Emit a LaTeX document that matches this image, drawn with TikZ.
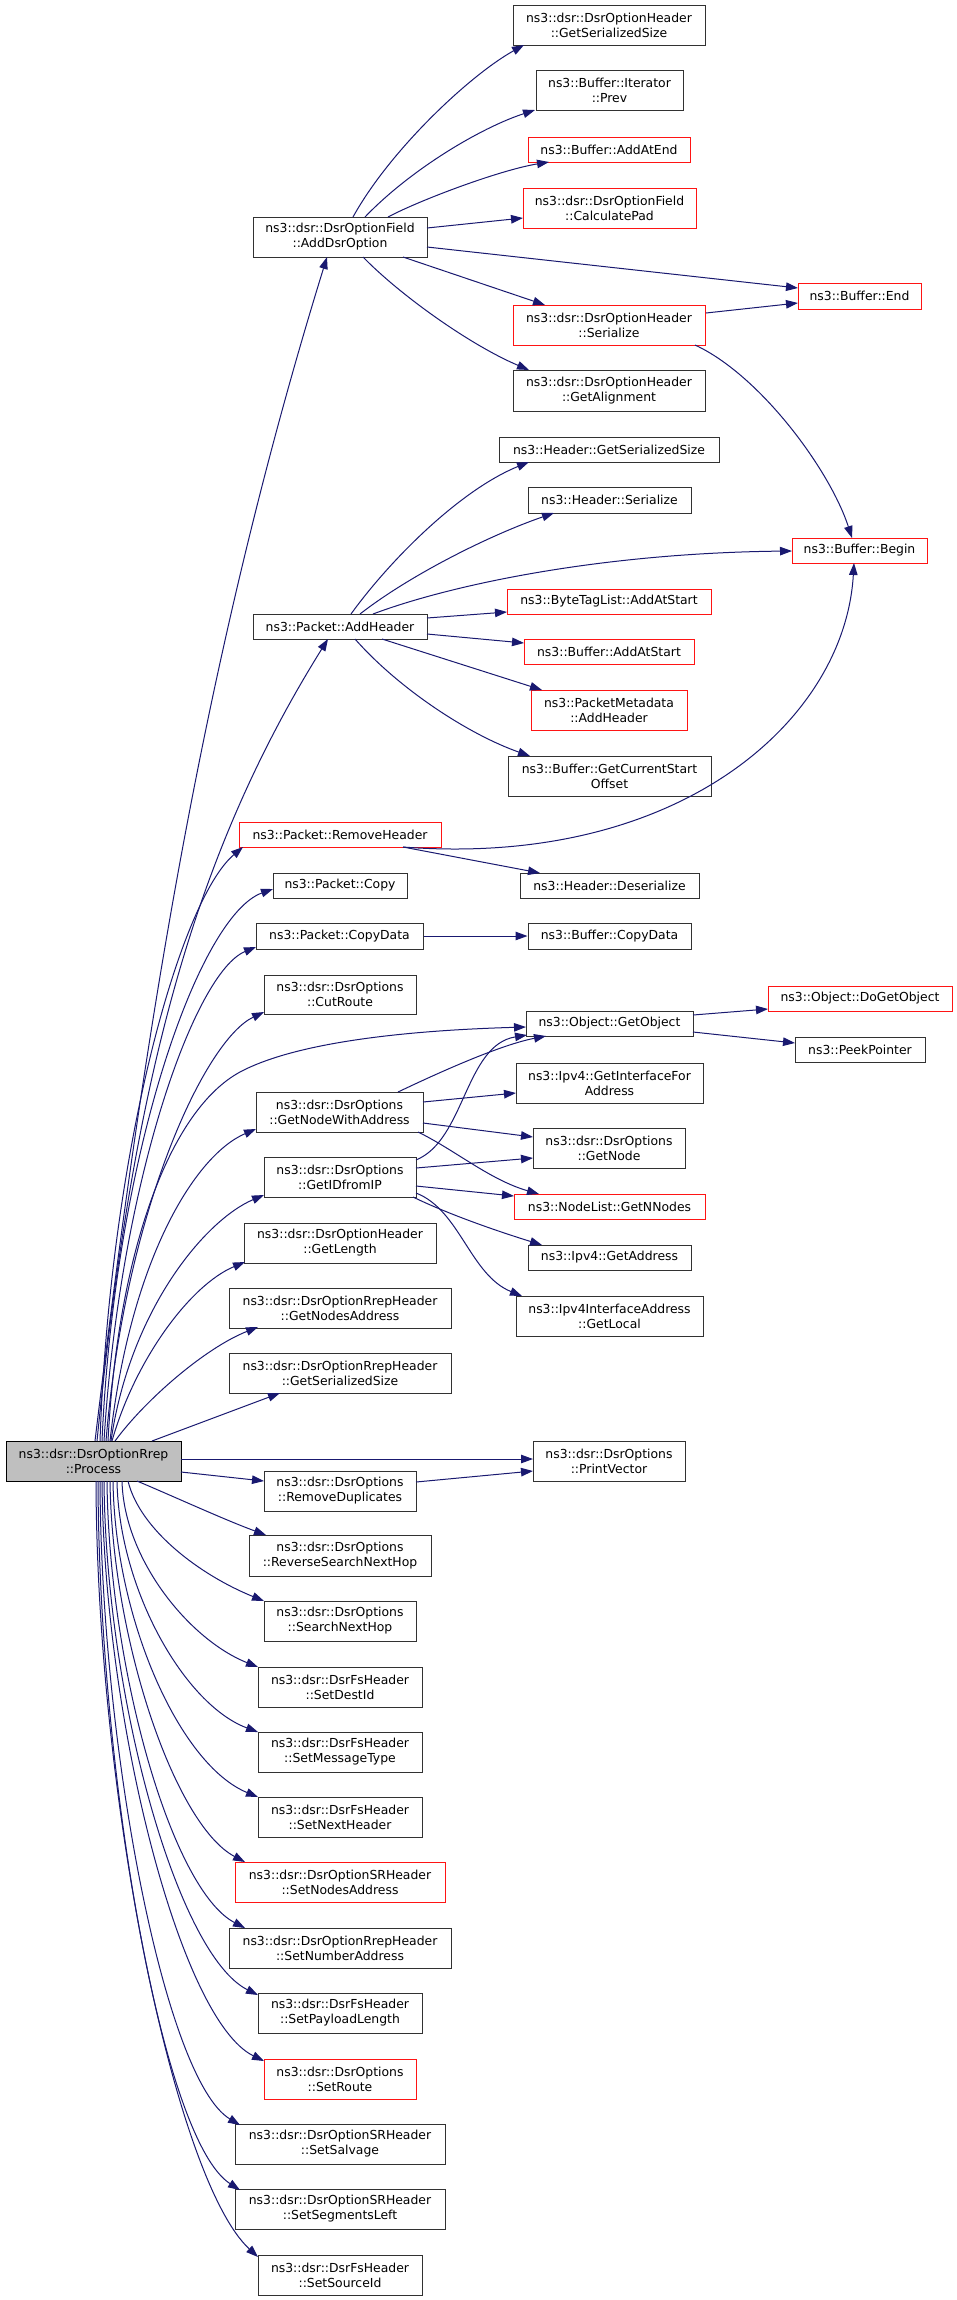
\documentclass[tikz,border=0pt]{standalone}
\usepackage{fontspec}
\setmainfont{DejaVu Sans}
\usetikzlibrary{arrows.meta,calc}
\definecolor{edgeblue}{RGB}{25,25,112}
\definecolor{srcgray}{RGB}{191,191,191}
\definecolor{boxline}{RGB}{50,50,50}
\definecolor{boxred}{RGB}{255,20,20}
\tikzset{
  fn/.style={draw=boxline, line width=1pt, fill=white, inner sep=0pt, align=center,
    font=\fontsize{12.4}{15}\selectfont, text=black},
  redfn/.style={fn, draw=boxred},
  srcfn/.style={fn, fill=srcgray, draw=black},
  sz/.style 2 args={minimum width=#1pt, minimum height=#2pt},
  e/.style={draw=edgeblue, line width=1pt, -{Triangle[length=12pt,width=8.5pt]}}
}
\begin{document}
\begin{tikzpicture}[x=1pt,y=-1pt]
\fill[white] (0,0) rectangle (957,2300);
\useasboundingbox (0,0) rectangle (957,2300);

% nodes
\node[srcfn, sz={175}{40}] (proc) at (93.5,1461) {ns3::dsr::DsrOptionRrep\\::Process};
\node[fn, sz={174}{40}] (adddsr) at (340,237) {ns3::dsr::DsrOptionField\\::AddDsrOption};
\node[fn, sz={192}{40}] (dohgss) at (609,25) {ns3::dsr::DsrOptionHeader\\::GetSerializedSize};
\node[fn, sz={147}{40}] (prev) at (609.5,90.5) {ns3::Buffer::Iterator\\::Prev};
\node[redfn, sz={162}{25}] (addatend) at (609,149.5) {ns3::Buffer::AddAtEnd};
\node[redfn, sz={173}{40}] (calcpad) at (609.5,208) {ns3::dsr::DsrOptionField\\::CalculatePad};
\node[redfn, sz={123}{26}] (bend) at (859.5,296) {ns3::Buffer::End};
\node[redfn, sz={192}{40}] (dohser) at (609,325) {ns3::dsr::DsrOptionHeader\\::Serialize};
\node[fn, sz={192}{41}] (getalign) at (609,390.5) {ns3::dsr::DsrOptionHeader\\::GetAlignment};
\node[fn, sz={220}{25}] (hgss) at (609,449.5) {ns3::Header::GetSerializedSize};
\node[fn, sz={163}{26}] (hser) at (609.5,500) {ns3::Header::Serialize};
\node[redfn, sz={135}{25}] (bbegin) at (859.5,550.5) {ns3::Buffer::Begin};
\node[redfn, sz={204}{25}] (btl) at (609,601.5) {ns3::ByteTagList::AddAtStart};
\node[redfn, sz={170}{25}] (baddst) at (609,651.5) {ns3::Buffer::AddAtStart};
\node[redfn, sz={156}{40}] (pmd) at (609,710) {ns3::PacketMetadata\\::AddHeader};
\node[fn, sz={203}{40}] (gcso) at (609.5,776) {ns3::Buffer::GetCurrentStart\\Offset};
\node[fn, sz={174}{25}] (addheader) at (340,626.5) {ns3::Packet::AddHeader};
\node[redfn, sz={202}{25}] (remhdr) at (340,834.5) {ns3::Packet::RemoveHeader};
\node[fn, sz={134}{25}] (copy) at (340,885.5) {ns3::Packet::Copy};
\node[fn, sz={167}{26}] (copydata) at (339.5,936) {ns3::Packet::CopyData};
\node[fn, sz={152}{39}] (cutroute) at (340,994.5) {ns3::dsr::DsrOptions\\::CutRoute};
\node[fn, sz={167}{40}] (gnwa) at (339.5,1112) {ns3::dsr::DsrOptions\\::GetNodeWithAddress};
\node[fn, sz={152}{40}] (gidip) at (340,1177) {ns3::dsr::DsrOptions\\::GetIDfromIP};
\node[fn, sz={192}{40}] (getlen) at (340,1243) {ns3::dsr::DsrOptionHeader\\::GetLength};
\node[fn, sz={222}{40}] (gna) at (340,1308) {ns3::dsr::DsrOptionRrepHeader\\::GetNodesAddress};
\node[fn, sz={222}{40}] (rgss) at (340,1373) {ns3::dsr::DsrOptionRrepHeader\\::GetSerializedSize};
\node[fn, sz={152}{40}] (remdup) at (340,1491) {ns3::dsr::DsrOptions\\::RemoveDuplicates};
\node[fn, sz={182}{41}] (rsnh) at (340,1555.5) {ns3::dsr::DsrOptions\\::ReverseSearchNextHop};
\node[fn, sz={152}{40}] (snh) at (340,1621) {ns3::dsr::DsrOptions\\::SearchNextHop};
\node[fn, sz={164}{40}] (setdest) at (340,1687) {ns3::dsr::DsrFsHeader\\::SetDestId};
\node[fn, sz={164}{40}] (setmsg) at (340,1752) {ns3::dsr::DsrFsHeader\\::SetMessageType};
\node[fn, sz={164}{40}] (setnext) at (340,1817) {ns3::dsr::DsrFsHeader\\::SetNextHeader};
\node[redfn, sz={210}{40}] (setnodes) at (340,1882) {ns3::dsr::DsrOptionSRHeader\\::SetNodesAddress};
\node[fn, sz={222}{40}] (setnum) at (340,1948) {ns3::dsr::DsrOptionRrepHeader\\::SetNumberAddress};
\node[fn, sz={164}{40}] (setpay) at (340,2013) {ns3::dsr::DsrFsHeader\\::SetPayloadLength};
\node[redfn, sz={152}{40}] (setroute) at (340,2079) {ns3::dsr::DsrOptions\\::SetRoute};
\node[fn, sz={210}{40}] (setsalv) at (340,2144) {ns3::dsr::DsrOptionSRHeader\\::SetSalvage};
\node[fn, sz={210}{40}] (setseg) at (340,2209) {ns3::dsr::DsrOptionSRHeader\\::SetSegmentsLeft};
\node[fn, sz={164}{40}] (setsrc) at (340,2275) {ns3::dsr::DsrFsHeader\\::SetSourceId};
\node[fn, sz={179}{25}] (hdeser) at (609.5,885.5) {ns3::Header::Deserialize};
\node[fn, sz={163}{26}] (bcopydata) at (609.5,936) {ns3::Buffer::CopyData};
\node[fn, sz={167}{25}] (getobj) at (609.5,1023.5) {ns3::Object::GetObject};
\node[redfn, sz={184}{25}] (dogetobj) at (860,998.5) {ns3::Object::DoGetObject};
\node[fn, sz={130}{25}] (peek) at (860,1049.5) {ns3::PeekPointer};
\node[fn, sz={187}{40}] (gifa) at (609.5,1083) {ns3::Ipv4::GetInterfaceFor\\Address};
\node[fn, sz={152}{40}] (getnode) at (609,1148) {ns3::dsr::DsrOptions\\::GetNode};
\node[redfn, sz={191}{25}] (gnn) at (609.5,1206.5) {ns3::NodeList::GetNNodes};
\node[fn, sz={163}{25}] (getaddr) at (609.5,1257.5) {ns3::Ipv4::GetAddress};
\node[fn, sz={187}{40}] (getlocal) at (609.5,1316) {ns3::Ipv4InterfaceAddress\\::GetLocal};
\node[fn, sz={152}{40}] (printvec) at (609,1461) {ns3::dsr::DsrOptions\\::PrintVector};

% edges from Process, upward
\draw[e] ($(proc)+(1.5,-20)$) .. controls (143,1041) and (203,658) .. ($(adddsr)+(-13,20)$);
\draw[e] ($(proc)+(3.5,-20)$) .. controls (132,1091) and (190,860) .. ($(addheader)+(-12,12.5)$);
\draw[e] ($(proc)+(6.5,-20)$) .. controls (110,1150) and (180,900) .. ($(remhdr)+(-97,12.5)$);
\draw[e] ($(proc)+(8.5,-20)$) .. controls (115,1150) and (200,915) .. ($(copy)+(-67,3.5)$);
\draw[e] ($(proc)+(10.5,-20)$) .. controls (120,1180) and (195,972) .. ($(copydata)+(-83.5,11)$);
\draw[e] ($(proc)+(12.5,-20)$) .. controls (125,1210) and (205,1040) .. ($(cutroute)+(-76,17.5)$);
\draw[e] ($(proc)+(14.5,-20)$) .. controls (118,1250) and (170,1110) .. (240,1072) .. controls (300,1040) and (420,1030) .. ($(getobj)+(-83.5,3.5)$);
\draw[e] ($(proc)+(16.5,-20)$) .. controls (130,1260) and (195,1155) .. ($(gnwa)+(-83.5,17)$);
\draw[e] ($(proc)+(17.5,-20)$) .. controls (130,1310) and (205,1220) .. ($(gidip)+(-76,18)$);
\draw[e] ($(proc)+(18.5,-20)$) .. controls (135,1360) and (190,1285) .. ($(getlen)+(-95,19)$);
\draw[e] ($(proc)+(21.5,-20)$) .. controls (145,1400) and (205,1348) .. ($(gna)+(-82,19)$);
\draw[e] ($(proc)+(58.5,-20)$) -- ($(rgss)+(-60,20)$);
\draw[e] ($(proc)+(87.5,-2)$) -- ($(printvec)+(-76,-2)$);
\draw[e] ($(proc)+(87.5,11)$) -- ($(remdup)+(-76,-10)$);
% edges from Process, downward
\draw[e] ($(proc)+(43.5,20)$) .. controls (175,1497) and (225,1520) .. ($(rsnh)+(-74,-20.5)$);
\draw[e] ($(proc)+(34.5,20)$) .. controls (140,1530) and (200,1575) .. ($(snh)+(-76,-20)$);
\draw[e] ($(proc)+(28.5,20)$) .. controls (124,1560) and (190,1640) .. ($(setdest)+(-82,-20)$);
\draw[e] ($(proc)+(23.5,20)$) .. controls (119,1590) and (185,1705) .. ($(setmsg)+(-82,-20)$);
\draw[e] ($(proc)+(19.5,20)$) .. controls (115,1620) and (180,1765) .. ($(setnext)+(-82,-20)$);
\draw[e] ($(proc)+(16.5,20)$) .. controls (112,1640) and (175,1825) .. ($(setnodes)+(-95,-20)$);
\draw[e] ($(proc)+(13.5,20)$) .. controls (109,1670) and (172,1890) .. ($(setnum)+(-95,-20)$);
\draw[e] ($(proc)+(10.5,20)$) .. controls (106,1700) and (178,1955) .. ($(setpay)+(-82,-18)$);
\draw[e] ($(proc)+(8.5,20)$) .. controls (104,1720) and (180,2020) .. ($(setroute)+(-76,-18)$);
\draw[e] ($(proc)+(6.5,20)$) .. controls (101,1750) and (165,2080) .. ($(setsalv)+(-100,-19)$);
\draw[e] ($(proc)+(4.5,20)$) .. controls (99,1775) and (162,2140) .. ($(setseg)+(-100,-19)$);
\draw[e] ($(proc)+(2.5,20)$) .. controls (97,1800) and (175,2180) .. ($(setsrc)+(-82,-18)$);

% AddDsrOption
\draw[e] ($(adddsr)+(13,-20)$) .. controls (390,150) and (470,75) .. ($(dohgss)+(-85,20)$);
\draw[e] ($(adddsr)+(25,-20)$) .. controls (410,170) and (480,128) .. ($(prev)+(-74.5,19.5)$);
\draw[e] ($(adddsr)+(48,-20)$) .. controls (420,200) and (500,170) .. ($(addatend)+(-60,12.5)$);
\draw[e] ($(adddsr)+(87,-9)$) -- ($(calcpad)+(-86.5,10)$);
\draw[e] ($(adddsr)+(87,10)$) -- ($(bend)+(-61.5,-8)$);
\draw[e] ($(adddsr)+(63,20)$) -- ($(dohser)+(-64,-20)$);
\draw[e] ($(adddsr)+(23,20)$) .. controls (400,295) and (470,345) .. ($(getalign)+(-80,-20.5)$);
\draw[e] ($(dohser)+(97,-12)$) -- ($(bend)+(-61.5,7)$);
\draw[e] ($(dohser)+(86,20)$) .. controls (760,375) and (830,470) .. ($(bbegin)+(-7.5,-12.5)$);

% Packet::AddHeader
\draw[e] ($(addheader)+(11,-12.5)$) .. controls (390,560) and (460,490) .. ($(hgss)+(-80,12.5)$);
\draw[e] ($(addheader)+(20,-12.5)$) .. controls (410,575) and (490,535) .. ($(hser)+(-55.5,13)$);
\draw[e] ($(addheader)+(33,-12.5)$) .. controls (450,585) and (600,553) .. ($(bbegin)+(-67.5,0.5)$);
\draw[e] ($(addheader)+(87,-8.5)$) -- ($(btl)+(-102,10.5)$);
\draw[e] ($(addheader)+(87,7.5)$) -- ($(baddst)+(-85,-8.5)$);
\draw[e] ($(addheader)+(42,12.5)$) -- ($(pmd)+(-67,-20)$);
\draw[e] ($(addheader)+(15,12.5)$) .. controls (400,690) and (470,735) .. ($(gcso)+(-79.5,-20)$);

% Packet::RemoveHeader
\draw[e] ($(remhdr)+(63,12.5)$) -- ($(hdeser)+(-69.5,-12.5)$);
\draw[e] ($(remhdr)+(63,12.5)$) .. controls (680,868) and (845,720) .. ($(bbegin)+(-5.5,12.5)$);

% CopyData
\draw[e] (copydata) -- (bcopydata);

% GetObject
\draw[e] ($(getobj)+(83.5,-8.5)$) -- ($(dogetobj)+(-92,10.5)$);
\draw[e] ($(getobj)+(83.5,8.5)$) -- ($(peek)+(-65,-6.5)$);

% GetNodeWithAddress
\draw[e] ($(gnwa)+(58.5,-20)$) .. controls (440,1072) and (500,1045) .. ($(getobj)+(-63.5,12.5)$);
\draw[e] ($(gnwa)+(83.5,-10)$) -- ($(gifa)+(-93.5,10)$);
\draw[e] ($(gnwa)+(83.5,11)$) -- ($(getnode)+(-76,-11)$);
\draw[e] ($(gnwa)+(78.5,20)$) .. controls (455,1150) and (490,1180) .. ($(gnn)+(-70.5,-12.5)$);

% GetIDfromIP
\draw[e] ($(gidip)+(76,-17)$) .. controls (465,1140) and (465,1045) .. ($(getobj)+(-82.5,11.5)$);
\draw[e] ($(gidip)+(76,-9)$) -- ($(getnode)+(-76,10)$);
\draw[e] ($(gidip)+(76,9)$) -- ($(gnn)+(-95.5,-10.5)$);
\draw[e] ($(gidip)+(73,20)$) .. controls (450,1215) and (500,1232) .. ($(getaddr)+(-67.5,-12.5)$);
\draw[e] ($(gidip)+(76,16)$) .. controls (460,1210) and (470,1275) .. ($(getlocal)+(-87.5,-20)$);

% RemoveDuplicates
\draw[e] ($(remdup)+(76,-9)$) -- ($(printvec)+(-76,10)$);
\end{tikzpicture}
\end{document}
